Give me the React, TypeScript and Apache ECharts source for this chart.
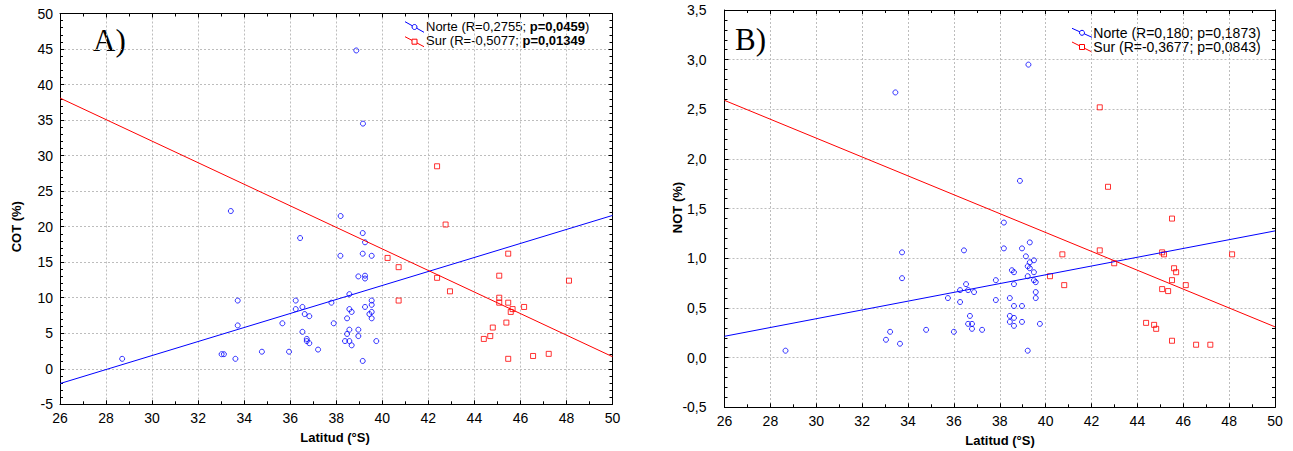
import React, { useEffect, useRef } from "react";
import * as echarts from "echarts";

// ---- Data (latitude °S, value %) ----
const norteCOT: [number, number][] = [
  [28.7, 1.4], [38.87, 44.8], [39.16, 34.5],
  [33.42, 22.2], [38.19, 21.5], [36.43, 18.4], [39.15, 19.1], [39.25, 17.8],
  [38.18, 15.9], [39.15, 16.2], [39.54, 15.9], [38.96, 13.0], [39.25, 13.1],
  [39.25, 12.7], [38.57, 10.5], [33.72, 9.6], [36.24, 9.6], [37.79, 9.3],
  [39.54, 9.6], [39.54, 9.0], [39.25, 8.7], [36.53, 8.7], [36.24, 8.4],
  [38.57, 8.4], [38.67, 8.0], [39.54, 8.0], [36.63, 7.7], [39.44, 7.7],
  [36.83, 7.4], [39.54, 7.1], [38.47, 7.1], [33.72, 6.1], [35.66, 6.4],
  [37.89, 6.4], [38.57, 5.5], [38.96, 5.5], [36.53, 5.2], [38.47, 4.9],
  [38.96, 4.6], [36.72, 4.2], [36.72, 3.9], [36.83, 3.6], [38.38, 3.9],
  [38.57, 3.9], [38.67, 3.3], [39.74, 3.9], [37.21, 2.7], [34.77, 2.4],
  [35.95, 2.4], [33.02, 2.05], [33.12, 2.05], [33.62, 1.4], [39.15, 1.1],
];
const surCOT: [number, number][] = [
  [42.38, 28.5], [42.75, 20.3], [45.47, 16.2], [40.23, 15.6], [40.71, 14.3],
  [40.71, 9.6], [45.08, 13.1], [42.38, 12.8], [48.11, 12.4], [42.94, 10.9],
  [45.08, 10.0], [45.08, 9.3], [45.47, 9.3], [46.16, 8.7], [45.66, 8.4],
  [45.58, 8.0], [45.39, 6.5], [44.8, 5.8], [44.69, 4.6], [44.41, 4.2],
  [45.47, 1.4], [46.55, 1.8], [47.23, 2.1],
];
const norteNOT: [number, number][] = [
  [28.66, 0.07], [33.45, 2.67], [39.25, 2.95],
  [38.88, 1.78], [38.18, 1.36], [33.74, 1.06], [36.44, 1.08], [38.18, 1.1],
  [38.97, 1.1], [39.31, 1.16], [39.14, 1.02], [39.49, 0.98], [39.31, 0.96],
  [39.22, 0.92], [39.31, 0.9], [38.53, 0.88], [38.62, 0.86], [39.49, 0.86],
  [33.74, 0.8], [39.22, 0.82], [39.49, 0.78], [37.83, 0.78], [39.57, 0.76],
  [36.53, 0.74], [38.62, 0.74], [36.27, 0.68], [36.62, 0.68], [36.88, 0.66],
  [39.57, 0.66], [35.74, 0.6], [38.44, 0.6], [39.57, 0.6], [36.27, 0.56],
  [37.83, 0.58], [38.62, 0.52], [38.97, 0.52], [36.7, 0.42], [38.44, 0.42],
  [38.62, 0.4], [36.62, 0.34], [36.79, 0.34], [38.44, 0.36], [38.97, 0.36],
  [39.75, 0.34], [36.79, 0.29], [38.62, 0.32], [34.79, 0.28], [36.0, 0.26],
  [37.23, 0.28], [33.22, 0.26], [33.04, 0.18], [33.65, 0.14], [39.22, 0.07],
];
const surNOT: [number, number][] = [
  [42.36, 2.52], [42.72, 1.72], [45.51, 1.4], [40.73, 1.04], [42.36, 1.08],
  [45.08, 1.06], [45.16, 1.04], [48.13, 1.04], [42.99, 0.95], [40.81, 0.73],
  [40.19, 0.82], [45.6, 0.9], [45.69, 0.86], [45.51, 0.78], [46.11, 0.73],
  [45.08, 0.69], [45.34, 0.67], [44.38, 0.35], [44.73, 0.33], [44.82, 0.29],
  [45.51, 0.17], [46.56, 0.13], [47.18, 0.13],
];
// fitted lines (end points)
const fitNorteCOT: [number, number][] = [[26, -2.08], [50, 21.58]];
const fitSurCOT: [number, number][] = [[26, 38.1], [50, 1.7]];
const fitNorteNOT: [number, number][] = [[26, 0.215], [50, 1.276]];
const fitSurNOT: [number, number][] = [[26, 2.59], [50, 0.31]];

const legendA = ["Norte (R=0,2755; ", "p=0,0459", ")", "Sur (R=-0,5077; ", "p=0,01349"];
const legendB = ["Norte (R=0,180; p=0,1873)", "Sur (R=-0,3677; p=0,0843)"];

const FONT = '"Liberation Sans", Arial, Helvetica, sans-serif';
const SERIF = '"Liberation Serif", "Times New Roman", serif';
const BLUE = "#0000ff";
const RED = "#ff0000";

function xAxisPair(gridIndex: number, labelSize: number) {
  const base: any = {
    type: "value",
    gridIndex,
    min: 26,
    max: 50,
    interval: 2,
    axisLine: { show: true, onZero: false, lineStyle: { color: "#000", width: 1 } },
    axisTick: { show: true, inside: true, length: 4, lineStyle: { color: "#000" } },
    minorTick: { show: true, splitNumber: 2, length: 3, lineStyle: { color: "#000" } },
  };
  return [
    {
      ...base,
      position: "bottom",
      axisLabel: { color: "#000", fontSize: labelSize, fontFamily: FONT, margin: 7 },
      splitLine: { show: true, lineStyle: { color: "#bdbdbd", type: [2, 2], width: 1 } },
    },
    {
      ...base,
      position: "top",
      axisLabel: { show: false },
      splitLine: { show: false },
    },
  ];
}

function yAxisPair(gridIndex: number, min: number, max: number, interval: number, fmt: any, margin: number, labelSize: number) {
  const base: any = {
    type: "value",
    gridIndex,
    min,
    max,
    interval,
    axisLine: { show: true, onZero: false, lineStyle: { color: "#000", width: 1 } },
    axisTick: { show: true, inside: true, length: 4, lineStyle: { color: "#000" } },
    minorTick: { show: true, splitNumber: 5, length: 3, lineStyle: { color: "#000" } },
  };
  return [
    {
      ...base,
      position: "left",
      axisLabel: { color: "#000", fontSize: labelSize, fontFamily: FONT, margin, formatter: fmt },
      splitLine: { show: true, lineStyle: { color: "#bdbdbd", type: [2, 2], width: 1 } },
    },
    {
      ...base,
      position: "right",
      axisLabel: { show: false },
      splitLine: { show: false },
    },
  ];
}

function scatter(data: [number, number][], xi: number, yi: number, color: string, symbol: string, size: number) {
  return {
    type: "scatter",
    xAxisIndex: xi,
    yAxisIndex: yi,
    data,
    symbol,
    symbolSize: size,
    silent: true,
    z: 3,
    itemStyle: { color: "rgba(0,0,0,0)", borderColor: color, borderWidth: 1 },
  };
}

function fit(data: [number, number][], xi: number, yi: number, color: string) {
  return {
    type: "line",
    xAxisIndex: xi,
    yAxisIndex: yi,
    data,
    showSymbol: false,
    symbol: "none",
    silent: true,
    z: 4,
    lineStyle: { color, width: 1 },
  };
}

function legendMarks(x0: number, x1: number, yb0: number, yb1: number, yr0: number, yr1: number) {
  const cx = (x0 + x1) / 2;
  return [
    { type: "line", shape: { x1: x0, y1: yb0, x2: x1, y2: yb1 }, style: { stroke: BLUE, lineWidth: 1 }, silent: true },
    { type: "circle", shape: { cx, cy: (yb0 + yb1) / 2, r: 2.5 }, style: { stroke: BLUE, fill: "#fff", lineWidth: 1 }, silent: true },
    { type: "line", shape: { x1: x0, y1: yr0, x2: x1, y2: yr1 }, style: { stroke: RED, lineWidth: 1 }, silent: true },
    { type: "rect", shape: { x: cx - 2.5, y: (yr0 + yr1) / 2 - 2.5, width: 5, height: 5 }, style: { stroke: RED, fill: "#fff", lineWidth: 1 }, silent: true },
  ];
}

export default function App() {
  const ref = useRef<HTMLDivElement>(null);
  useEffect(() => {
    if (!ref.current) return;
    const chart = echarts.init(ref.current, undefined, { renderer: "svg" });
    const xa = [...xAxisPair(0, 14), ...xAxisPair(1, 14)];
    const ya = [
      ...yAxisPair(0, -5, 50, 5, (v: number) => String(v), 7, 14),
      ...yAxisPair(1, -0.5, 3.5, 0.5, (v: number) => v.toFixed(1).replace(".", ","), 18, 14),
    ];
    const option: any = {
      animation: false,
      backgroundColor: "#fff",
      grid: [
        { left: 60, top: 13.5, width: 552.5, height: 390.8 },
        { left: 724.5, top: 10, width: 550.5, height: 397.3 },
      ],
      xAxis: xa,
      yAxis: ya,
      series: [
        scatter(norteCOT, 0, 0, BLUE, "circle", 5),
        scatter(surCOT, 0, 0, RED, "rect", 5),
        fit(fitNorteCOT, 0, 0, BLUE),
        fit(fitSurCOT, 0, 0, RED),
        scatter(norteNOT, 2, 2, BLUE, "circle", 5),
        scatter(surNOT, 2, 2, RED, "rect", 5),
        fit(fitNorteNOT, 2, 2, BLUE),
        fit(fitSurNOT, 2, 2, RED),
      ],
      graphic: [
        // axis names
        { type: "text", x: 16, y: 226.7, rotation: Math.PI / 2, silent: true,
          style: { text: "COT (%)", fontFamily: FONT, fontSize: 13, fontWeight: "bold", fill: "#000", align: "center", verticalAlign: "middle" } },
        { type: "text", x: 677.5, y: 207.5, rotation: Math.PI / 2, silent: true,
          style: { text: "NOT (%)", fontFamily: FONT, fontSize: 13, fontWeight: "bold", fill: "#000", align: "center", verticalAlign: "middle" } },
        { type: "text", x: 335, y: 437, silent: true,
          style: { text: "Latitud (°S)", fontFamily: FONT, fontSize: 13, fontWeight: "bold", fill: "#000", align: "center", verticalAlign: "middle" } },
        { type: "text", x: 1000, y: 440, silent: true,
          style: { text: "Latitud (°S)", fontFamily: FONT, fontSize: 13, fontWeight: "bold", fill: "#000", align: "center", verticalAlign: "middle" } },
        // panel labels
        { type: "text", x: 93, y: 40, silent: true,
          style: { text: "A)", fontFamily: SERIF, fontSize: 31, fill: "#000", align: "left", verticalAlign: "middle" } },
        { type: "text", x: 735, y: 39, silent: true,
          style: { text: "B)", fontFamily: SERIF, fontSize: 31, fill: "#000", align: "left", verticalAlign: "middle" } },
        // legend A
        ...legendMarks(405, 424, 21.7, 32.3, 36.7, 46.7),
        { type: "text", x: 426, y: 26, silent: true,
          style: {
            text: `{n|${legendA[0]}}{b|${legendA[1]}}{n|${legendA[2]}}`,
            verticalAlign: "middle", align: "left",
            rich: {
              n: { fontFamily: FONT, fontSize: 13, fill: "#000" },
              b: { fontFamily: FONT, fontSize: 13, fontWeight: "bold", fill: "#000" },
            },
          } },
        { type: "text", x: 426, y: 40.7, silent: true,
          style: {
            text: `{n|${legendA[3]}}{b|${legendA[4]}}`,
            verticalAlign: "middle", align: "left",
            rich: {
              n: { fontFamily: FONT, fontSize: 13, fill: "#000" },
              b: { fontFamily: FONT, fontSize: 13, fontWeight: "bold", fill: "#000" },
            },
          } },
        // legend B
        ...legendMarks(1072, 1092, 28.3, 37.3, 42, 52),
        { type: "text", x: 1093.3, y: 33.3, silent: true,
          style: { text: legendB[0], fontFamily: FONT, fontSize: 14, fill: "#000", align: "left", verticalAlign: "middle" } },
        { type: "text", x: 1093.3, y: 47, silent: true,
          style: { text: legendB[1], fontFamily: FONT, fontSize: 14, fill: "#000", align: "left", verticalAlign: "middle" } },
      ],
    };
    chart.setOption(option);
    return () => chart.dispose();
  }, []);
  return (
    <div
      ref={ref}
      style={{ position: "absolute", left: 0, top: 0, width: 1293, height: 451, background: "#fff" }}
    />
  );
}
